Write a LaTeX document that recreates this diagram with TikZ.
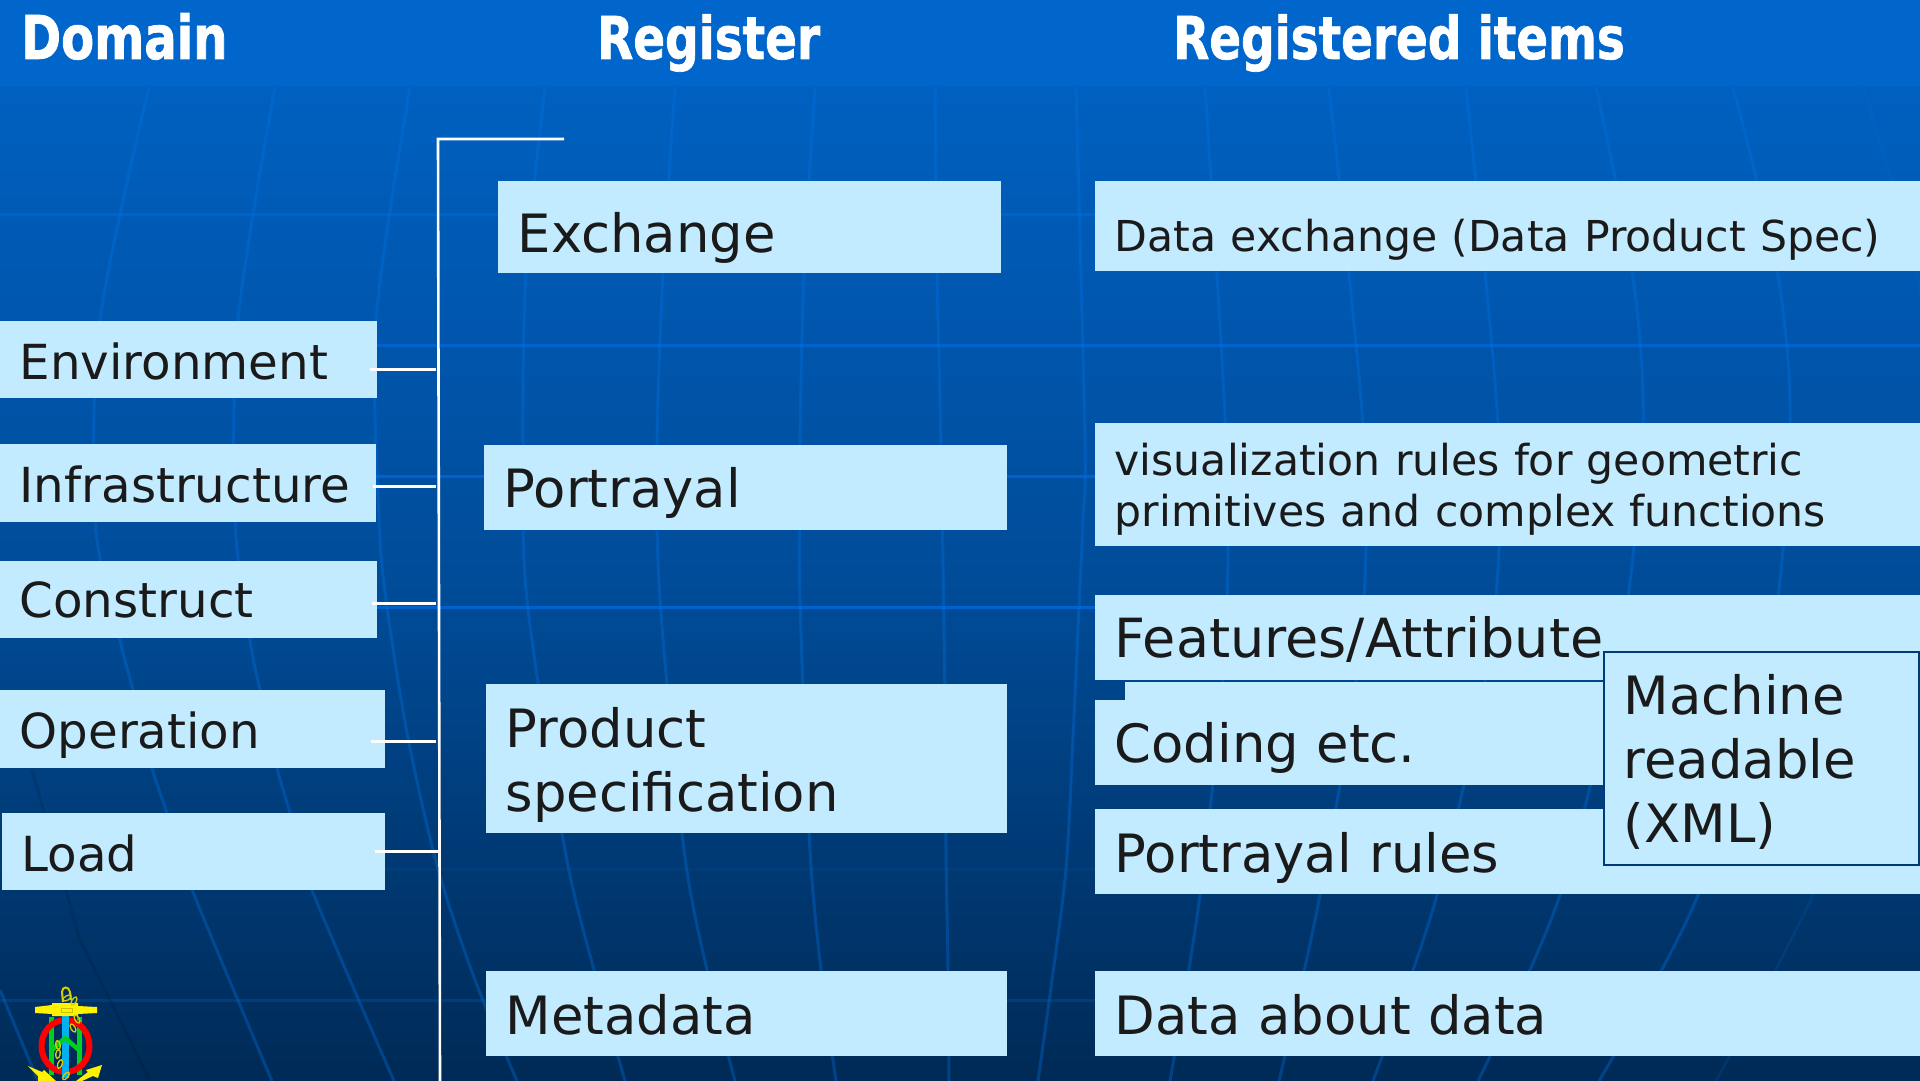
\documentclass[tikz,border=0pt]{standalone}
\usepackage{fontspec}
\setmainfont{DejaVu Sans}
\newfontfamily\ttlfont[FakeStretch=0.795,FakeBold=1.2]{DejaVu Sans Bold}
\definecolor{boxc}{HTML}{C2EBFF}
\definecolor{inkc}{HTML}{1A1A1A}
\definecolor{barc}{HTML}{0066CC}
\definecolor{bgtop}{HTML}{0060C0}
\definecolor{bgmid}{HTML}{004B97}
\definecolor{bgbot}{HTML}{002A56}
\definecolor{gridc}{HTML}{0074E6}
\definecolor{brightc}{HTML}{0062CE}
\definecolor{dimc}{HTML}{003D7A}
\definecolor{edgec}{HTML}{003A78}
\definecolor{logoy}{HTML}{FFF200}
\definecolor{logog}{HTML}{00D020}
\definecolor{logob}{HTML}{00B0F0}
\newcommand{\bx}[8][]{%
  \pgfmathsetmacro{\bxw}{#5-#3}\pgfmathsetmacro{\bxa}{#7-#4}\pgfmathsetmacro{\bxd}{#6-#7}\pgfmathsetmacro{\bxt}{#5-#3-39.4}%
  \node[boxstyle,#1,minimum width=\bxw pt,text width=\bxt pt,text height=\bxa pt,text depth=\bxd pt] (#2) at (#3,#4) {#8};}
\tikzset{
  boxstyle/.style={anchor=north west,fill=boxc,text=inkc,align=left,inner xsep=19.7pt,inner ysep=0pt,outer sep=0pt},
  smalltxt/.style={font=\fontsize{42.6}{51}\selectfont},
  midtxt/.style={font=\fontsize{48.3}{60}\selectfont},
  bigtxt/.style={font=\fontsize{52.8}{64}\selectfont},
  ttl/.style={anchor=base west,text=white,font=\ttlfont\fontsize{59}{64}\selectfont,inner sep=0pt},
  merid/.style={draw=gridc,opacity=.34,line width=3pt},
  conn/.style={draw=white,line width=3pt},
  trunk/.style={draw=white,line width=2.6pt},
}
\begin{document}
\begin{tikzpicture}[x=1pt,y=-1pt]
\useasboundingbox (0,0) rectangle (1920,1081);
% background
\fill[barc] (0,0) rectangle (1920,87);
\fill[top color=bgtop,bottom color=bgmid] (0,87) rectangle (1920,600.5);
\fill[top color=bgmid,bottom color=bgbot] (0,600) rectangle (1920,1081);
% parallels
\foreach \yy in {214,345,476,607} \draw[brightc,line width=3pt] (0,\yy) -- (1920,\yy);
\foreach \yy in {869,1000} \draw[dimc,line width=3pt] (0,\yy) -- (1920,\yy);
% meridians
\draw[merid] plot[smooth] coordinates {(149,87) (100,320) (95,520) (120,640) (133,690) (152,768) (167,813) (193,892) (272,1081)};
\draw[merid] plot[smooth] coordinates {(275,87) (238,320) (235,520) (250,640) (260,690) (277,768) (290,813) (312,890) (394,1081)};
\draw[merid] plot[smooth] coordinates {(410,87) (376,320) (379,520) (387,607) (408,738) (438,869) (475,980) (517,1081)};
\draw[merid] plot[smooth] coordinates {(545,87) (526,273) (523,445) (527,600) (565,850) (594,970) (625,1081)};
\draw[merid] plot[smooth] coordinates {(675,87) (663,273) (657,445) (660,600) (684,850) (707,970) (735,1081)};
\draw[merid] plot[smooth] coordinates {(815,87) (804,273) (800,445) (800,600) (810,850) (821,970) (836,1081)};
\draw[merid] plot[smooth] coordinates {(935,87) (937,273) (941,445) (945,700) (946,850) (948,970) (949,1081)};
\draw[merid] plot[smooth] coordinates {(1076,87) (1085,440) (1083,520) (1079,607) (1073,738) (1066,869) (1052,980) (1038,1081)};
\draw[merid] plot[smooth] coordinates {(1205,87) (1226,440) (1225,650) (1200,895) (1170,1081)};
\draw[merid] plot[smooth] coordinates {(1329,87) (1364,440) (1360,650) (1320,895) (1279,1081)};
\draw[merid] plot[smooth] coordinates {(1466,87) (1499,440) (1490,650) (1437,895) (1373,1081)};
\draw[merid] plot[smooth] coordinates {(1596,87) (1632,270) (1643,430) (1620,650) (1560,895) (1478,1081)};
\draw[merid] plot[smooth] coordinates {(1733,87) (1777,270) (1790,425) (1770,650) (1698,895) (1599,1081)};
\draw[merid,opacity=.14] plot[smooth] coordinates {(1863,87) (1916,270) (1935,430) (1915,650) (1813,895) (1716,1081)};
\draw[merid] (0,990) -- (38,1081);
\draw[black,opacity=.1,line width=3pt] (32,770) -- (80,940) -- (150,1081);
% titles
\node[ttl,font=\ttlfont\fontsize{60.5}{64}\selectfont] (tdomain) at (21,59) {Domain};
\node[ttl] (tregister) at (597,59) {Register};
\node[ttl] (titems) at (1173,59) {Registered items};
% domain column
\bx[midtxt]{env}{0}{321}{377}{398}{379}{Environment}
\bx[midtxt]{inf}{0}{444}{376}{522}{502}{Infrastructure}
\bx[midtxt]{con}{0}{561}{377}{638}{617}{Construct}
\bx[midtxt]{ope}{0}{690}{385}{768}{748}{Operation}
\bx[midtxt]{loa}{2}{813}{385}{890}{871}{Load}
% register column
\bx[bigtxt]{exc}{498}{181}{1001}{273}{252}{Exchange}
\bx[bigtxt]{por}{484}{445}{1007}{530}{507}{Portrayal}
\bx[bigtxt]{pro}{486}{684}{1007}{833}{747}{Product\\specification}
\bx[bigtxt]{met}{486}{971}{1007}{1056}{1034}{Metadata}
% items column
\bx[smalltxt]{ide}{1095}{181}{1920}{271}{251}{Data exchange (Data Product Spec)}
\bx[smalltxt]{ivi}{1095}{423}{1920}{546}{475}{visualization rules for geometric\\primitives and complex functions}
\bx[bigtxt]{ife}{1095}{595}{1920}{680}{657}{\fontsize{54}{64}\selectfont Features/Attribute}
\fill[boxc] (1125,682) rectangle (1610,701);
\bx[bigtxt]{ico}{1095}{700}{1610}{785}{762}{Coding etc.}
\bx[bigtxt]{ipo}{1095}{809}{1920}{894}{872}{Portrayal rules}
\bx[bigtxt,draw=edgec,line width=2.5pt]{ima}{1604}{652}{1919}{865}{714}{Machine\\readable\\(XML)}
\bx[bigtxt]{ida}{1095}{971}{1920}{1056}{1034}{Data about data}
% connectors
\coordinate (jtop) at (564,139);
\coordinate (jcor) at (438,139);
\coordinate (jend) at (440,1081);
\coordinate (j1) at (436,369);
\coordinate (j2) at (436,486);
\coordinate (j3) at (436,603);
\coordinate (j4) at (436,741);
\coordinate (j5) at (439,851);
\draw[trunk] (jtop) -- (jcor) -- (jend);
\draw[conn,shorten <=-7pt] (env.east |- j1) -- (j1);
\draw[conn,shorten <=-3pt] (inf.east |- j2) -- (j2);
\draw[conn,shorten <=-5pt] (con.east |- j3) -- (j3);
\draw[conn,shorten <=-14pt] (ope.east |- j4) -- (j4);
\draw[conn,shorten <=-10pt] (loa.east |- j5) -- (j5);
% logo
\begin{scope}
\clip (0,880) rectangle (120,1081);
\fill[logog] (49,1017) rectangle (54,1075);
\fill[logog] (77,1017) rectangle (82,1075);
\draw[red,line width=6pt] (65.5,1046) ellipse (24pt and 26pt);
\fill[logob] (62,1014) rectangle (69,1078);
\draw[logog,line width=4.5pt] (52,1050) -- (65,1038) -- (79,1050);
\fill[logoy] (35,1007) -- (52,1005) -- (52,1003) -- (78,1003) -- (78,1006) -- (97,1007) -- (97,1013) -- (78,1014) -- (78,1016) -- (52,1016) -- (52,1014) -- (35,1013) -- cycle;
\draw[logoy!80!black,line width=1pt] (61,1008) rectangle (72,1012);
\draw[logoy!85!black,line width=2pt] (63,1002) -- (62,992) .. controls (62,986) and (69,986) .. (70,992) -- (71,1000);
\foreach \cx/\cy/\cr in {67/998/30,74/1001/60,77/1019/120,73/1028/120,58/1045/100,58/1054/80,60/1064/70,66/1076/50}
  \draw[logoy!85!black,line width=1.3pt,rotate around={\cr:(\cx,\cy)}] (\cx,\cy) ellipse (4.5pt and 2.2pt);
\fill[logoy] (28,1066) -- (42,1072) -- (44,1070) -- (56,1081) -- (38,1081) -- (38,1076) -- cycle;
\fill[logoy] (102,1065) -- (98,1078) -- (93,1076) -- (82,1081) -- (76,1081) -- (88,1072) -- (86,1070) -- cycle;
\end{scope}
\end{tikzpicture}
\end{document}
